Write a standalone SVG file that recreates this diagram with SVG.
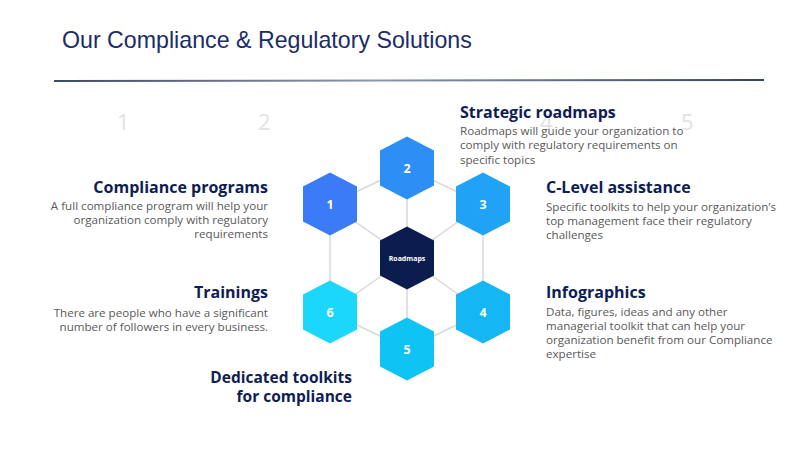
<svg xmlns="http://www.w3.org/2000/svg" width="800" height="450" viewBox="0 0 800 450">
  <defs>
    <linearGradient id="rule" x1="0" y1="0" x2="1" y2="0">
      <stop offset="0" stop-color="#3b4a66"/>
      <stop offset="0.45" stop-color="#8a97ad"/>
      <stop offset="0.75" stop-color="#5a6883"/>
      <stop offset="1" stop-color="#34435f"/>
    </linearGradient>
    <path id="hex" d="M0,-31.5 L27,-17.5 L27,17.5 L0,31.5 L-27,17.5 L-27,-17.5 Z"/>
  </defs>
  <style>
    .title { font-family: "Liberation Sans", Arial, sans-serif; font-size: 23.2px; fill: #1b2c68; }
    .ghost { font-family: "Open Sans", "Liberation Sans", sans-serif; font-size: 22px; fill: #e2e2e2; }
    .head { font-family: "Open Sans", "Liberation Sans", sans-serif; font-size: 16px; font-weight: bold; fill: #0f1d55; }
    .head2 { font-family: "Open Sans", "Liberation Sans", sans-serif; font-size: 15.5px; font-weight: bold; fill: #0f1d55; }
    .body { font-family: "Open Sans", "Liberation Sans", sans-serif; font-size: 11.6px; fill: #595959; }
    .num { font-family: "Open Sans", "Liberation Sans", sans-serif; font-size: 12.5px; font-weight: bold; fill: #ffffff; text-anchor: middle; }
    .core { font-family: "Open Sans", "Liberation Sans", sans-serif; font-size: 7px; font-weight: bold; fill: #ffffff; text-anchor: middle; }
    .link { stroke: #d9d9d9; stroke-width: 1.5; fill: none; }
    .r { text-anchor: end; }
  </style>
  <rect width="800" height="450" fill="#ffffff"/>

  <text class="title" x="62" y="48">Our Compliance &amp; Regulatory Solutions</text>
  <line x1="54" y1="81" x2="764" y2="80" stroke="url(#rule)" stroke-width="2"/>

  <g id="ghost-numbers">
    <text class="ghost" x="117" y="130">1</text>
    <text class="ghost" x="258" y="130">2</text>
    <text class="ghost" x="540" y="130">4</text>
    <text class="ghost" x="681" y="130">5</text>
  </g>

  <g id="connectors">
    <line class="link" x1="330" y1="204" x2="407" y2="168"/>
    <line class="link" x1="407" y1="168" x2="483" y2="204"/>
    <line class="link" x1="407" y1="168" x2="407" y2="258"/>
    <line class="link" x1="330" y1="204" x2="407" y2="258"/>
    <line class="link" x1="483" y1="204" x2="407" y2="258"/>
    <line class="link" x1="330" y1="204" x2="330" y2="312"/>
    <line class="link" x1="483" y1="204" x2="483" y2="312"/>
    <line class="link" x1="330" y1="312" x2="407" y2="258"/>
    <line class="link" x1="483" y1="312" x2="407" y2="258"/>
    <line class="link" x1="407" y1="258" x2="407" y2="349"/>
    <line class="link" x1="330" y1="312" x2="407" y2="349"/>
    <line class="link" x1="483" y1="312" x2="407" y2="349"/>
  </g>

  <g id="node-1">
    <use href="#hex" x="330" y="204" fill="#3b7cf6"/>
    <text class="num" x="330" y="208.5">1</text>
  </g>
  <g id="node-2">
    <use href="#hex" x="407" y="168" fill="#2d8ff5"/>
    <text class="num" x="407" y="172.5">2</text>
  </g>
  <g id="node-3">
    <use href="#hex" x="483" y="204" fill="#20a3f6"/>
    <text class="num" x="483" y="208.5">3</text>
  </g>
  <g id="node-4">
    <use href="#hex" x="483" y="312" fill="#14b6f3"/>
    <text class="num" x="483" y="316.5">4</text>
  </g>
  <g id="node-5">
    <use href="#hex" x="407" y="349" fill="#10c3f5"/>
    <text class="num" x="407" y="353.5">5</text>
  </g>
  <g id="node-6">
    <use href="#hex" x="330" y="312" fill="#1bd7fb"/>
    <text class="num" x="330" y="316.5">6</text>
  </g>
  <g id="node-core">
    <use href="#hex" x="407" y="258" fill="#0b1c4f"/>
    <text class="core" x="407" y="260.5">Roadmaps</text>
  </g>

  <g id="label-compliance">
    <text class="head r" x="268" y="193">Compliance programs</text>
    <text class="body r" x="268" y="209.5">A full compliance program will help your</text>
    <text class="body r" x="268" y="223.5">organization comply with regulatory</text>
    <text class="body r" x="268" y="237.5">requirements</text>
  </g>
  <g id="label-trainings">
    <text class="head r" x="268" y="298">Trainings</text>
    <text class="body r" x="268" y="316.5">There are people who have a significant</text>
    <text class="body r" x="268" y="330.5">number of followers in every business.</text>
  </g>
  <g id="label-toolkits">
    <text class="head2 r" x="352" y="383">Dedicated toolkits</text>
    <text class="head2 r" x="352" y="402">for compliance</text>
  </g>
  <g id="label-strategic">
    <text class="head" x="460" y="118">Strategic roadmaps</text>
    <text class="body" x="460" y="134.5">Roadmaps will guide your organization to</text>
    <text class="body" x="460" y="149">comply with regulatory requirements on</text>
    <text class="body" x="460" y="163.5">specific topics</text>
  </g>
  <g id="label-clevel">
    <text class="head" x="546" y="193">C-Level assistance</text>
    <text class="body" x="546" y="211">Specific toolkits to help your organization’s</text>
    <text class="body" x="546" y="225">top management face their regulatory</text>
    <text class="body" x="546" y="239">challenges</text>
  </g>
  <g id="label-infographics">
    <text class="head" x="546" y="298">Infographics</text>
    <text class="body" x="546" y="315.5">Data, figures, ideas and any other</text>
    <text class="body" x="546" y="329.5">managerial toolkit that can help your</text>
    <text class="body" x="546" y="343.5">organization benefit from our Compliance</text>
    <text class="body" x="546" y="357.5">expertise</text>
  </g>
</svg>
